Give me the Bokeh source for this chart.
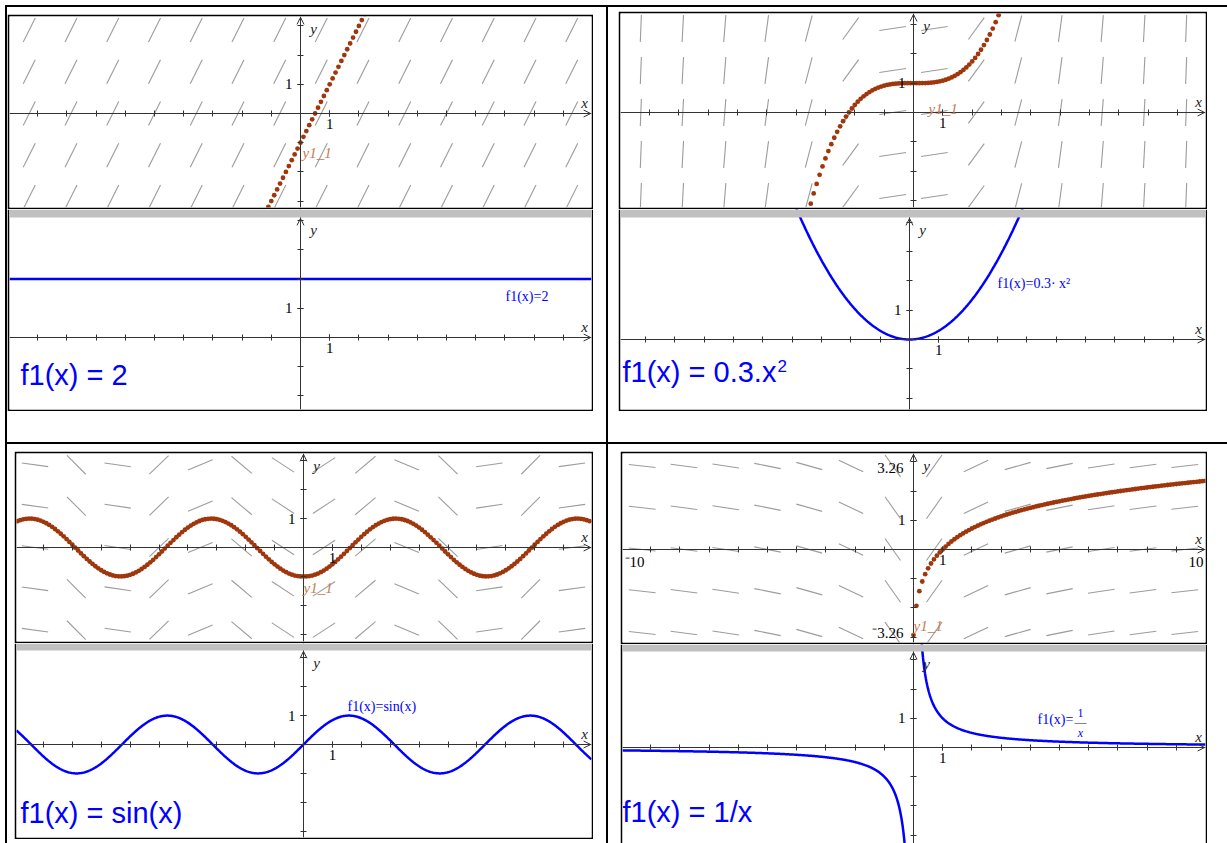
import math
import numpy as np
from bokeh.plotting import figure
from bokeh.layouts import row, column
from bokeh.models import (Range1d, LinearAxis, FixedTicker, Label, Arrow, OpenHead,
                          BoxAnnotation, Spacer, GlobalInlineStyleSheet)
from bokeh.embed import file_html
from bokeh.resources import INLINE

# ---------------- data ----------------
FUNC_NAMES = ["const", "quad", "sin", "recip"]          # f1 of each cell (TL, TR, BL, BR)
BIG_TITLES = ["f1(x) = 2", "f1(x) = 0.3.x", "f1(x) = sin(x)", "f1(x) = 1/x"]
CURVE_LABELS = ["f1(x)=2", "f1(x)=0.3\u00b7 x\u00b2", "f1(x)=sin(x)", "f1(x)="]
SOLUTION_LABEL = "y1_1"
INITIAL_X = [0.0, 0.0, 0.0, 1.0]                        # initial condition of y1 (DE y' = f1)
INITIAL_Y = [-1.0, 1.0, -1.0, 0.0]
EULER_STEP = 0.1
FIELD_X = [-9.29, -7.86, -6.43, -5.00, -3.57, -2.14, -0.71, 0.71, 2.14, 3.57, 5.00, 6.43, 7.86, 9.29]
FIELD_Y = [-2.86, -1.43, 0.0, 1.43, 2.86]
X_TICKS = [-9, -8, -7, -6, -5, -4, -3, -2, -1, 1, 2, 3, 4, 5, 6, 7, 8, 9]
Y_TICKS = [-4, -3, -2, -1, 1, 2, 3, 4]
LABELED_TICK = [1]
BR_WINDOW_LABELS = ["3.26", "\u207b3.26", "\u207b10", "10"]

# ---------------- styles ----------------
BROWN = "#A0360C"
LABEL_BROWN = "#C87A52"
FIELD_GRAY = "#9C9C9C"
AXIS = "#333333"
BLUE = "#0000FF"
BAND = "#C0C0C0"
SERIF = "Liberation Serif"
SANS = "Liberation Sans"


def f1(name, x):
    x = np.asarray(x, dtype=float)
    if name == "const":
        return np.full_like(x, 2.0)
    if name == "quad":
        return 0.3 * x ** 2
    if name == "sin":
        return np.sin(x)
    with np.errstate(divide="ignore"):
        return 1.0 / x


class G:
    """pixel geometry of one graph: canvas box, borders, origin pixel, unit"""
    def __init__(self, x, y, w, h, b, o, u):
        self.x, self.y, self.w, self.h = x, y, w, h
        self.bl, self.br, self.bt, self.bb = b
        self.ox, self.oy = o
        self.u = u
        self.fl = x + self.bl
        self.fr = x + w - self.br
        self.ft = y + self.bt
        self.fb = y + h - self.bb

    def dx(self, px):
        return (px - self.ox) / self.u

    def dy(self, py):
        return (self.oy - py) / self.u


GEOM = [
    (G(7, 14, 586, 195, (2, 2, 2, 2), (300, 113), 29.2),
     G(7, 209, 586, 202, (2, 2, 0, 2), (300, 337), 29.2)),
    (G(618, 11, 589, 198, (2, 2, 2, 2), (913, 112), 29.35),
     G(618, 209, 589, 202, (2, 2, 0, 2), (909, 339), 29.35)),
    (G(14, 451, 579, 192, (2, 2, 2, 2), (303, 547), 28.9),
     G(14, 643, 579, 196, (2, 2, 0, 2), (303, 744), 28.9)),
    (G(620, 451, 587, 193, (2, 2, 2, 2), (913, 549), 29.2),
     G(620, 644, 587, 199, (2, 2, 0, 0), (913, 747), 29.2)),
]
BAND_PX = [8, 8, 7, 7]
TITLE_POS = [(20, 374), (622, 371), (20, 812), (622, 811)]     # left, vertical centre
CURVE_LABEL_POS = [(505, 296), (997, 283), (347, 706), (1037, 719)]
SOL_LABEL_POS = [(302, 152), (928, 108), (303, 587), (913, 625)]


def base_fig(g):
    xr = Range1d(g.dx(g.fl), g.dx(g.fr))
    yr = Range1d(g.dy(g.fb), g.dy(g.ft))
    p = figure(width=g.w, height=g.h, x_range=xr, y_range=yr,
               output_backend="svg", toolbar_location=None,
               x_axis_location=None, y_axis_location=None,
               min_border_left=g.bl, min_border_right=g.br,
               min_border_top=g.bt, min_border_bottom=g.bb,
               border_fill_color="black", background_fill_color="white",
               outline_line_color=None, margin=0)
    p.grid.grid_line_color = None
    return p, xr, yr


def add_axes(p, g, xr, yr, ytop):
    ax = LinearAxis(fixed_location=0,
                    ticker=FixedTicker(ticks=LABELED_TICK,
                                       minor_ticks=[t for t in X_TICKS if xr.start < t < xr.end]))
    ay = LinearAxis(fixed_location=0,
                    ticker=FixedTicker(ticks=LABELED_TICK,
                                       minor_ticks=[t for t in Y_TICKS if yr.start < t < ytop]))
    for a in (ax, ay):
        a.axis_line_color = AXIS
        a.axis_line_width = 1
        a.major_tick_line_color = AXIS
        a.minor_tick_line_color = AXIS
        a.major_tick_in = 3
        a.major_tick_out = 3
        a.minor_tick_in = 3
        a.minor_tick_out = 3
        a.major_label_text_font = SERIF
        a.major_label_text_font_size = "15px"
        a.major_label_text_color = "black"
    ax.major_label_standoff = 2
    ay.major_label_standoff = 5
    p.add_layout(ax, "below")
    p.add_layout(ay, "left")
    p.add_layout(Arrow(x_start=xr.end - 0.5, y_start=0, x_end=xr.end - 0.03, y_end=0,
                       line_alpha=0, end=OpenHead(size=7, line_color=AXIS, line_width=1)))
    p.add_layout(Arrow(x_start=0, y_start=ytop - 0.5, x_end=0, y_end=ytop - 0.03,
                       line_alpha=0, end=OpenHead(size=7, line_color=AXIS, line_width=1)))
    p.add_layout(Label(x=xr.end - 7 / g.u, y=11 / g.u, text="x", text_font=SERIF,
                       text_font_style="italic", text_font_size="15px", text_color="#222222",
                       text_align="center", text_baseline="middle"))
    p.add_layout(Label(x=13 / g.u, y=ytop - 12 / g.u, text="y", text_font=SERIF,
                       text_font_style="italic", text_font_size="15px", text_color="#222222",
                       text_align="center", text_baseline="middle"))


def euler_path(name, x0, y0, h, xlo, xhi, ylo, yhi):
    pts = [(x0, y0)]
    y, k = y0, 0
    while True:
        xc, xn = x0 + k * h, x0 + (k + 1) * h
        if xn > xhi + 1e-9:
            break
        s = float(f1(name, xc))
        if not math.isfinite(s):
            break
        y += h * s
        k += 1
        if y > yhi + 0.2 or y < ylo - 0.2:
            break
        pts.append((xn, y))
    y, k = y0, 0
    while True:
        xc, xn = x0 - k * h, x0 - (k + 1) * h
        if xn < xlo - 1e-9:
            break
        s = float(f1(name, xc))
        if not math.isfinite(s):
            break
        y -= h * s
        k += 1
        if y > yhi + 0.2 or y < ylo - 0.2:
            break
        pts.insert(0, (xn, y))
    return [q[0] for q in pts], [q[1] for q in pts]


def top_graph(i):
    g = GEOM[i][0]
    p, xr, yr = base_fig(g)
    name = FUNC_NAMES[i]
    gx, gy = np.meshgrid(FIELD_X, FIELD_Y)
    gx, gy = gx.ravel(), gy.ravel()
    m = f1(name, gx)
    half = 0.46 / np.sqrt(1 + m ** 2)
    p.segment(gx - half, gy - m * half, gx + half, gy + m * half,
              line_color=FIELD_GRAY, line_width=1.1)
    add_axes(p, g, xr, yr, yr.end)
    xs, ys = euler_path(name, INITIAL_X[i], INITIAL_Y[i], EULER_STEP,
                        xr.start, xr.end, yr.start, yr.end)
    p.scatter(xs, ys, size=4.8, fill_color=BROWN, line_color=None)
    sx, sy = SOL_LABEL_POS[i]
    p.add_layout(Label(x=g.dx(sx), y=g.dy(sy), text=SOLUTION_LABEL, text_font=SERIF,
                       text_font_style="italic", text_font_size="15px", text_color=LABEL_BROWN,
                       text_baseline="middle"))
    if name == "recip":
        specs = [(903, 467, "right"), (903, 632, "right"), (624, 561, "left"), (1203, 561, "right")]
        for txt, (px, py, al) in zip(BR_WINDOW_LABELS, specs):
            p.add_layout(Label(x=g.dx(px), y=g.dy(py), text=txt, text_font=SERIF,
                               text_font_size="15px", text_color="black",
                               text_align=al, text_baseline="middle"))
    return p


def bottom_graph(i):
    g = GEOM[i][1]
    p, xr, yr = base_fig(g)
    name = FUNC_NAMES[i]
    ytop = g.dy(g.ft + BAND_PX[i])
    add_axes(p, g, xr, yr, ytop)
    if name == "recip":
        for xs in (np.linspace(xr.start, -0.25, 400), np.linspace(0.25, xr.end, 400)):
            p.line(xs, f1(name, xs), line_color=BLUE, line_width=2.5)
    else:
        xs = np.linspace(xr.start, xr.end, 801)
        p.line(xs, f1(name, xs), line_color=BLUE, line_width=2.5)
    lx, ly = CURVE_LABEL_POS[i]
    p.add_layout(Label(x=g.dx(lx), y=g.dy(ly), text=CURVE_LABELS[i], text_font=SERIF,
                       text_font_size="14px", text_color=BLUE, text_baseline="middle"))
    if name == "recip":
        for txt, py, st in (("1", 712, "normal"), ("\u2014", 721, "normal"), ("x", 732, "italic")):
            p.add_layout(Label(x=g.dx(1080), y=g.dy(py), text=txt, text_font=SERIF,
                               text_font_size="12px", text_font_style=st, text_color=BLUE,
                               text_align="center", text_baseline="middle"))
    tx, ty = TITLE_POS[i]
    p.add_layout(Label(x=g.dx(tx), y=g.dy(ty), text=BIG_TITLES[i], text_font=SANS,
                       text_font_size="29px", text_color=BLUE, text_baseline="middle"))
    if name == "quad":
        p.add_layout(Label(x=g.dx(777), y=g.dy(365), text="2", text_font=SANS,
                           text_font_size="17px", text_color=BLUE, text_baseline="middle"))
    p.add_layout(BoxAnnotation(left=xr.start, right=xr.end, bottom=ytop, top=yr.end,
                               fill_color=BAND, fill_alpha=1, line_color=None, level="overlay"))
    return p


def gap(w, h):
    return Spacer(width=w, height=h, margin=0)


def black(w, h):
    return Spacer(width=w, height=h, margin=0, styles={"background-color": "#000000"})


figs = [(top_graph(i), bottom_graph(i)) for i in range(4)]

left_inner = column(
    gap(599, 5), black(599, 2), gap(599, 7),
    figs[0][0], figs[0][1],
    gap(599, 31), black(599, 2), gap(599, 7),
    row(gap(7, 192), figs[2][0], spacing=0, margin=0),
    row(gap(7, 196), figs[2][1], spacing=0, margin=0),
    spacing=0, margin=0)

right_inner = column(
    gap(619, 5), black(619, 2), gap(619, 4),
    row(gap(10, 198), figs[1][0], spacing=0, margin=0),
    row(gap(10, 202), figs[1][1], spacing=0, margin=0),
    gap(619, 31), black(619, 2), gap(619, 7),
    row(gap(12, 193), figs[3][0], spacing=0, margin=0),
    row(gap(12, 199), figs[3][1], spacing=0, margin=0),
    spacing=0, margin=0)

root = row(
    gap(5, 843),
    column(gap(2, 5), black(2, 838), spacing=0, margin=0),
    left_inner,
    column(gap(2, 5), black(2, 838), spacing=0, margin=0),
    right_inner,
    spacing=0, margin=0)
root.stylesheets = [GlobalInlineStyleSheet(
    css="html, body { margin: 0 !important; padding: 0 !important; overflow: hidden !important; }")]

open("out.html", "w").write(file_html(root, INLINE))
